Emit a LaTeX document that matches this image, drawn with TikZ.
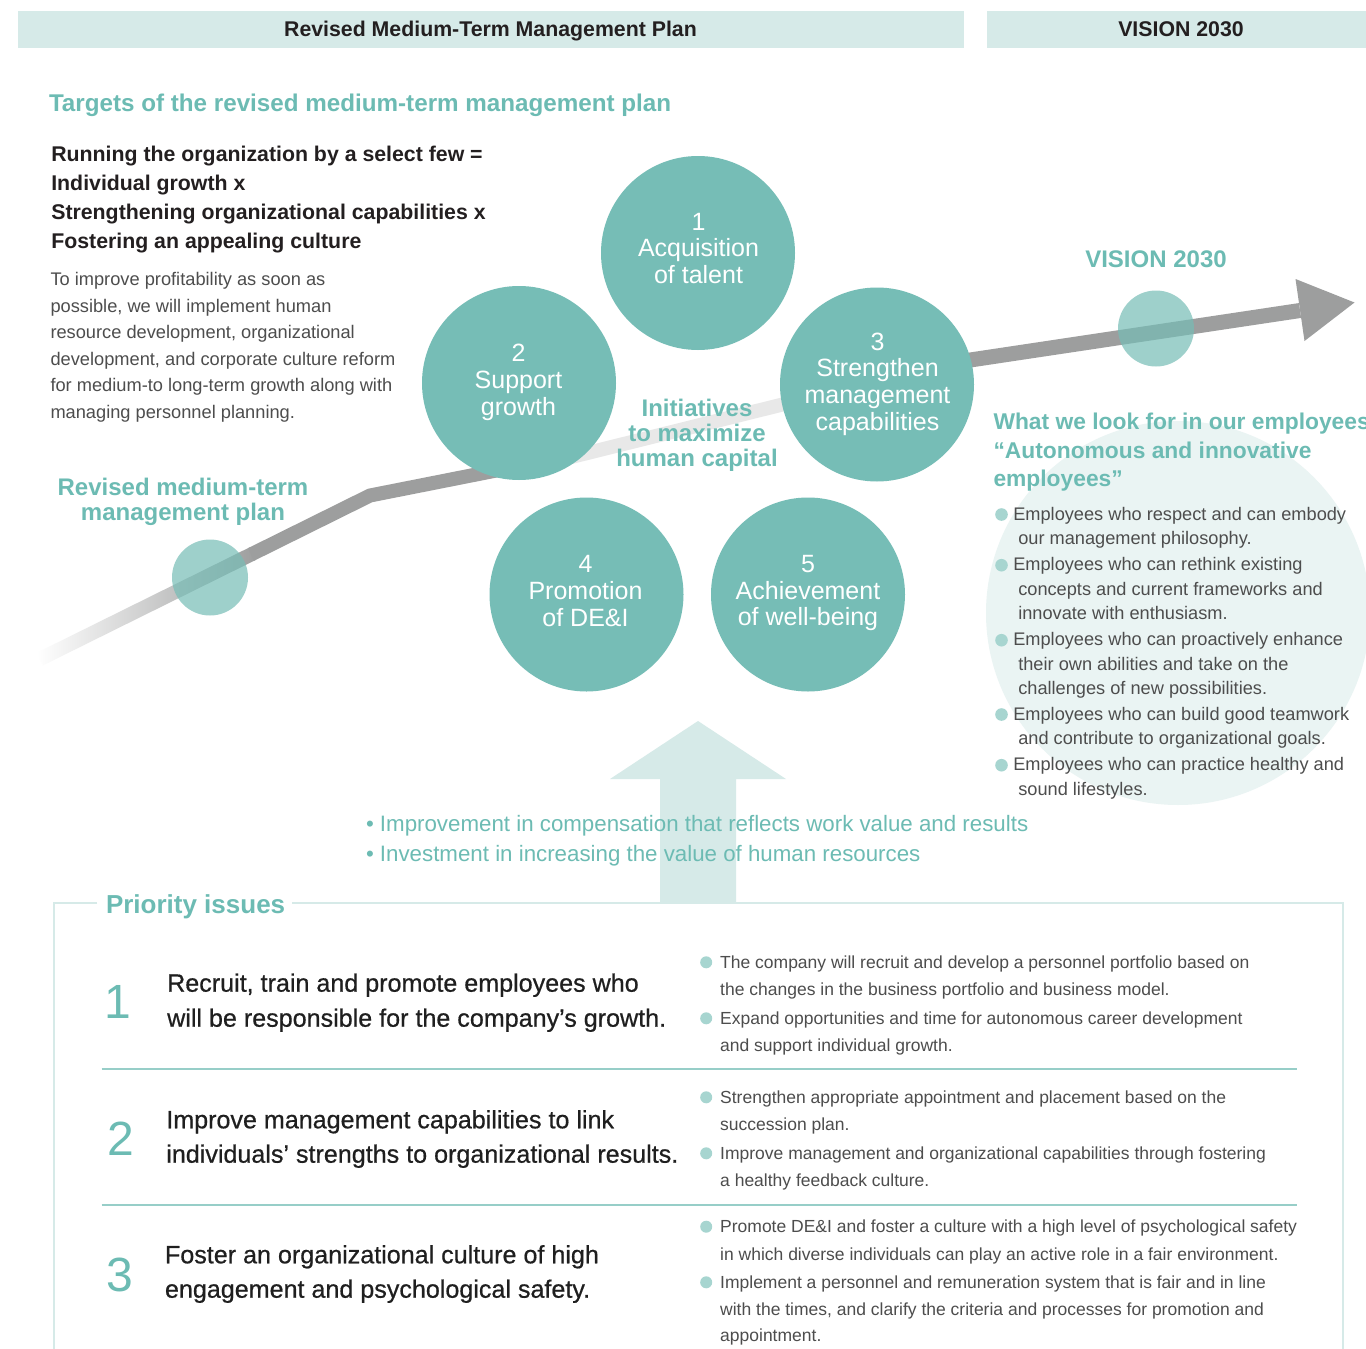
\documentclass[tikz,border=0pt]{standalone}
\usepackage{fontspec}
\setmainfont{Liberation Sans}
\newfontfamily\issuefont[FakeBold=0.6]{Liberation Sans}

\definecolor{barteal}{HTML}{D6EAE8}
\definecolor{ballteal}{HTML}{76BDB6}
\definecolor{tealtxt}{HTML}{6CBBB3}
\definecolor{dotteal}{HTML}{A7D5D0}
\definecolor{faintteal}{HTML}{EAF4F3}
\definecolor{ruleteal}{HTML}{97CEC8}
\definecolor{bandgray}{HTML}{9D9E9E}
\definecolor{bandlight}{HTML}{E8E8E8}
\definecolor{darktxt}{HTML}{231F20}
\definecolor{bodytxt}{HTML}{4D4D4D}

% stack of single-line nodes: prefix, style, x, first baseline, leading, lines
\newcommand\linesat[6]{%
  \foreach \thisline [count=\k] in {#6}{%
    \node[#2] (#1\k) at (#3,{#4+(\k-1)*#5}) {\thisline};}}

\begin{document}
\begin{tikzpicture}[x=1pt, y=-1pt,
  every node/.style={inner sep=0pt, outer sep=0pt},
  st-hdr/.style={anchor=base, text=darktxt, font=\fontsize{21.3}{25}\selectfont\bfseries},
  st-tealhead/.style={text=tealtxt, font=\fontsize{24}{28}\selectfont\bfseries},
  st-lead/.style={anchor=base west, text=darktxt, font=\fontsize{21.3}{25}\selectfont\bfseries},
  st-body/.style={anchor=base west, text=bodytxt, font=\fontsize{18.25}{22}\selectfont},
  st-ball/.style={circle, fill=ballteal, minimum size=194pt},
  st-balltext/.style={anchor=base, text=white, font=\fontsize{25}{28}\selectfont},
  st-marker/.style={circle, fill=ballteal, fill opacity=0.7, minimum size=76pt},
  st-emp/.style={anchor=base west, text=bodytxt, font=\fontsize{18.2}{22}\selectfont},
  st-note/.style={anchor=base west, text=bodytxt, font=\fontsize{17.5}{21}\selectfont},
  st-lever/.style={anchor=base west, text=tealtxt, font=\fontsize{22.3}{26}\selectfont},
  st-issue/.style={anchor=base west, text=black!88, font=\fontsize{25.1}{29}\selectfont\issuefont},
  st-issuenum/.style={anchor=base, text=tealtxt, font=\fontsize{48}{52}\selectfont},
]
\useasboundingbox (0,0) rectangle (1366,1349);
\fill[white] (0,0) rectangle (1366,1349);

% header bars
\fill[barteal] (18,11) rectangle (964,48);
\fill[barteal] (987,11) rectangle (1372,48);
\node[st-hdr] (hdrplan) at (490.5,36.7) {Revised Medium-Term Management Plan};
\node[st-hdr] (hdrvision) at (1181,36.7) {VISION 2030};

% soft disc behind the list of employee qualities
\fill[faintteal] (1178,613) circle[radius=192];

% upward arrow feeding the initiatives
\fill[barteal] (698,721) -- (786,779) -- (736,779) -- (736,903) -- (660,903)
  -- (660,779) -- (610,779) -- cycle;

% frame of the priority issues
\draw[barteal, line width=2.7pt] (97,903) -- (54,903) -- (54,1360);
\draw[barteal, line width=2.7pt] (292,903) -- (1343,903) -- (1343,1360);
\draw[ruleteal, line width=1.4pt] (101.6,1069) -- (1297,1069);
\draw[ruleteal, line width=1.4pt] (101.6,1205) -- (1297,1205);

% growth band: fading start, elbow, light middle, arrow to 2030
\shade[left color=white, right color=bandgray]
  (36.9,652.7) -- (249.9,547.2) -- (256.1,559.8) -- (43.1,665.3) -- cycle;
\draw[bandgray, line width=14pt, line join=miter] (251,554.5) -- (370,495.5) -- (519,466);
\draw[bandlight, line width=14pt] (519,470) -- (877,381);
\draw[bandgray, line width=15pt] (877,374) -- (1300,310.5);
\fill[bandgray] (1295.5,279) -- (1354.5,302.5) -- (1304.5,341) -- cycle;

% the five initiatives
\node[st-ball] (c1) at (698,253) {};
\node[st-ball] (c2) at (519,383) {};
\node[st-ball] (c3) at (877,384.5) {};
\node[st-ball] (c4) at (586.5,594.5) {};
\node[st-ball] (c5) at (808,594.5) {};
\linesat{c1t}{st-balltext}{698.5}{230}{26.7}{1,Acquisition,of talent}
\linesat{c2t}{st-balltext}{518.5}{361.7}{26.9}{2,Support,growth}
\linesat{c3t}{st-balltext}{877.5}{350}{26.8}{3,Strengthen,management,capabilities}
\linesat{c4t}{st-balltext}{585.5}{572.7}{26.7}{4,Promotion,of DE\&I}
\linesat{c5t}{st-balltext}{808}{572.7}{26.5}{5,Achievement,of well-being}

% milestones on the band
\node[st-marker] (mplan) at (210,577.5) {};
\node[st-marker] (mvision) at (1156,328.5) {};

% teal headings
\node[st-tealhead, anchor=base west, font=\fontsize{24.2}{28}\selectfont\bfseries] (targets) at (49,111.7)
  {Targets of the revised medium-term management plan};
\node[st-tealhead, anchor=base] (visionlbl) at (1156,267.3) {VISION 2030};
\linesat{plan}{st-tealhead, anchor=base}{183}{495.7}{25}{Revised medium-term,management plan}
\linesat{init}{st-tealhead, anchor=base}{697}{416.7}{25}{Initiatives,to maximize,human capital}
\linesat{look}{st-tealhead, anchor=base west, font=\fontsize{22.8}{28}\selectfont\bfseries}{993.5}{429.3}{28.7}
  {What we look for in our employees,“Autonomous and innovative,employees”}

% targets text
\linesat{lead}{st-lead}{51.3}{161.5}{29}
  {Running the organization by a select few =,Individual growth x,
   Strengthening organizational capabilities x,Fostering an appealing culture}
\linesat{body}{st-body}{50.5}{285.5}{26.5}
  {To improve profitability as soon as,{possible, we will implement human},
   {resource development, organizational},{development, and corporate culture reform},
   for medium-to long-term growth along with,managing personnel planning.}

% employee qualities
\foreach \yy in {520,570.7,645.7,720,770.7}
  \fill[dotteal] (1001.5,\yy-5.5) circle[radius=6.3];
\foreach \xx/\yy/\tx [count=\k] in {
  1013.3/520/{Employees who respect and can embody},
  1018.3/544/{our management philosophy.},
  1013.3/570.7/{Employees who can rethink existing},
  1018.3/595/{concepts and current frameworks and},
  1018.3/619/{innovate with enthusiasm.},
  1013.3/645.7/{Employees who can proactively enhance},
  1018.3/670/{their own abilities and take on the},
  1018.3/694/{challenges of new possibilities.},
  1013.3/720/{Employees who can build good teamwork},
  1018.3/744/{and contribute to organizational goals.},
  1013.3/770.7/{Employees who can practice healthy and},
  1018.3/795/{sound lifestyles.}}
  {\node[st-emp] (emp\k) at (\xx,\yy) {\tx};}

% levers under the arrow
\node[st-lever] (lever1) at (366,831.7) {• Improvement in compensation that reflects work value and results};
\node[st-lever] (lever2) at (366,861.7) {• Investment in increasing the value of human resources};

% priority issues
\node[st-tealhead, anchor=base west, font=\fontsize{26}{30}\selectfont\bfseries] (prio) at (106,913.3) {Priority issues};
\node[st-issuenum] (n1) at (118,1018) {1};
\node[st-issuenum] (n2) at (120.5,1155) {2};
\node[st-issuenum] (n3) at (120,1291.5) {3};
\linesat{iss1}{st-issue}{167.2}{991.7}{35}
  {{Recruit, train and promote employees who},will be responsible for the company’s growth.}
\linesat{iss2}{st-issue}{166.3}{1128.3}{34.4}
  {Improve management capabilities to link,individuals’ strengths to organizational results.}
\linesat{iss3}{st-issue}{165}{1263.3}{34.4}
  {Foster an organizational culture of high,engagement and psychological safety.}

\foreach \yy in {968.3,1024.3,1103.3,1159.3,1232.7,1288.3}
  \fill[dotteal] (706.2,\yy-6) circle[radius=6];
\foreach \yy/\tx [count=\k] in {
  968.3/{The company will recruit and develop a personnel portfolio based on},
  995/{the changes in the business portfolio and business model.},
  1024.3/{Expand opportunities and time for autonomous career development},
  1051/{and support individual growth.},
  1103.3/{Strengthen appropriate appointment and placement based on the},
  1130/{succession plan.},
  1159.3/{Improve management and organizational capabilities through fostering},
  1186/{a healthy feedback culture.},
  1232.7/{Promote DE\&I and foster a culture with a high level of psychological safety},
  1260/{in which diverse individuals can play an active role in a fair environment.},
  1288.3/{Implement a personnel and remuneration system that is fair and in line},
  1315.7/{with the times, and clarify the criteria and processes for promotion and},
  1341.7/{appointment.}}
  {\node[st-note] (act\k) at (720.2,\yy) {\tx};}
\end{tikzpicture}
\end{document}
